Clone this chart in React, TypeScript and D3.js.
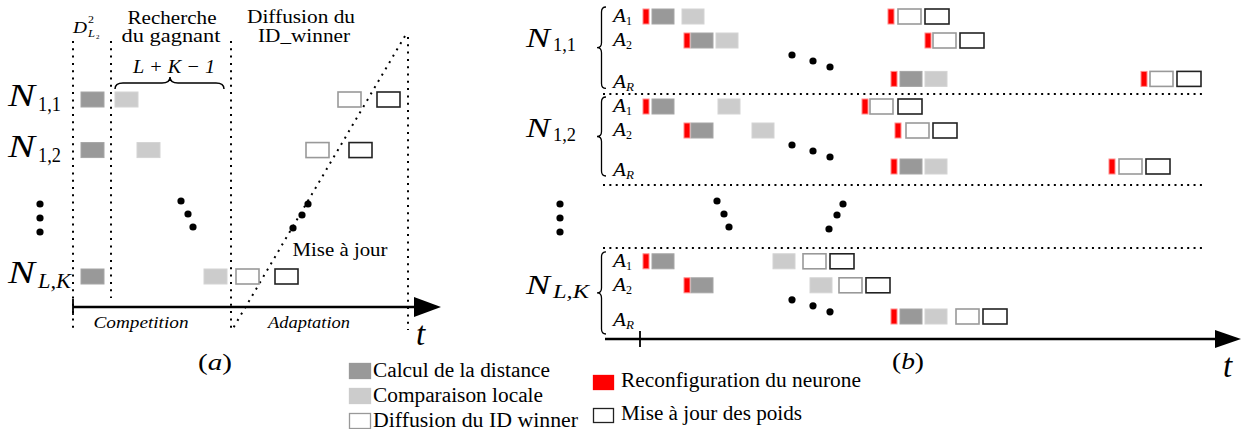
import React from "react";
import * as d3 from "d3";

// ---------- data ----------
// Panel (a): time offsets (px-units from the time origin) of each operation per neuron
const rowsA = ["1,1", "1,2", "L,K"];
const rowSlotA = [0, 1, 3.5];
const rowSubItalicA = [false, false, true];
const phaseLinesA = [0, 38, 158, 335];
const phaseLineEndA = [330, 298, 330, 330];
const distStartA = [8, 8, 8];
const compStartA = [42, 64, 131];
const diffStartA = [265, 233, 163];
const updStartA = [304, 276, 202];

// Panel (b): rows (group, agent), slot position and operation start times
const groupsB = ["1,1", "1,2", "L,K"];
const groupItalicB = [false, false, true];
const agentsB = ["1", "2", "R"];
const rowSlotB = [
  [0, 1, 2.6],
  [3.75, 4.75, 6.25],
  [10.2, 11.2, 12.5],
];
const reconfB = [
  [[3, 248], [44, 285], [251, 501]],
  [[3, 222], [44, 255], [251, 469]],
  [[3], [44], [251]],
];
const distB = [
  [12, 51, 260],
  [12, 51, 260],
  [12, 51, 260],
];
const compB = [
  [42, 76, 285],
  [78, 112, 285],
  [133, 170, 285],
];
const diffB = [
  [[258], [293], [510]],
  [[230], [266], [479]],
  [[163], [199], [316]],
];
const updB = [
  [[285], [320], [537]],
  [[258], [293], [506]],
  [[190], [226], [343]],
];
const separatorsB = [3.54, 7.33, 9.96];

const legendLeft = [
  { label: "Calcul de la distance", kind: "dist" },
  { label: "Comparaison locale", kind: "comp" },
  { label: "Diffusion du ID  winner", kind: "diff" },
];
const legendRight = [
  { label: "Reconfiguration du neurone", kind: "reconf" },
  { label: "Mise à jour des poids", kind: "upd" },
];

// ---------- scales ----------
const xA = d3.scaleLinear().domain([0, 335]).range([73, 408]);
const yA = d3.scaleLinear().domain([0, 3.5]).range([92, 269]);
const xB = d3.scaleLinear().domain([0, 575]).range([640, 1215]);
const yB = d3.scaleLinear().domain([0, 1]).range([9, 33]);

const BOX_H = 15;
const W_A = 23;
const W = { reconf: 6, dist: 22, comp: 22, diff: 23, upd: 24 };

const SERIF = '"Liberation Serif", "Times New Roman", serif';

const style: Record<string, any> = {
  dist: { fill: "#999999", stroke: "#a6a6a6", strokeWidth: 1 },
  comp: { fill: "#cccccc", stroke: "#d4d4d4", strokeWidth: 1 },
  diff: { fill: "#ffffff", stroke: "#999999", strokeWidth: 1.6 },
  upd: { fill: "#ffffff", stroke: "#222222", strokeWidth: 1.6 },
  reconf: { fill: "#ff0000", stroke: "#ff8a8a", strokeWidth: 1 },
};

function T(props: any) {
  const { x, y, size, italic, len, anchor, children } = props;
  return (
    <text
      x={x}
      y={y}
      style={{ fontFamily: SERIF, fontSize: size + "px", fontStyle: italic ? "italic" : "normal" }}
      textAnchor={anchor || "start"}
      textLength={len}
      lengthAdjust={len ? "spacingAndGlyphs" : undefined}
      fill="#000"
    >
      {children}
    </text>
  );
}

function vBrace(x: number, y0: number, y1: number, w: number) {
  const ym = (y0 + y1) / 2;
  const xm = x + w / 2;
  const r = 5;
  return `M${x + w},${y0} Q${xm},${y0} ${xm},${y0 + r} L${xm},${ym - r} Q${xm},${ym} ${x},${ym} Q${xm},${ym} ${xm},${ym + r} L${xm},${y1 - r} Q${xm},${y1} ${x + w},${y1}`;
}

function hBrace(x0: number, x1: number, y: number, h: number, xm: number) {
  const yc = y - h / 2;
  const r = 8;
  return `M${x0},${y} Q${x0},${yc} ${x0 + r},${yc} L${xm - r},${yc} Q${xm},${yc} ${xm},${y - h} Q${xm},${yc} ${xm + r},${yc} L${x1 - r},${yc} Q${x1},${yc} ${x1},${y}`;
}

function Dot({ cx, cy }: any) {
  return <circle cx={cx} cy={cy} r={3.6} fill="#000" />;
}

function Box({ x, y, w, kind }: any) {
  const s = style[kind];
  return <rect x={x} y={y} width={w} height={BOX_H} fill={s.fill} stroke={s.stroke} strokeWidth={s.strokeWidth} />;
}

export default function App() {
  const dotted = { stroke: "#000", strokeWidth: 2, strokeDasharray: "2 5.3", fill: "none" } as const;

  // ---------- Panel (a) ----------
  const panelA: any[] = [];
  phaseLinesA.forEach((t, i) => {
    panelA.push(<line key={"pl" + i} x1={xA(t)} x2={xA(t)} y1={i === 3 ? 37 : 41} y2={phaseLineEndA[i]} style={dotted} />);
  });
  panelA.push(<line key="diag" x1={xA(332)} y1={36} x2={xA(159)} y2={330} style={dotted} />);
  rowsA.forEach((r, i) => {
    const y = yA(rowSlotA[i]);
    panelA.push(<Box key={"d" + i} x={xA(distStartA[i])} y={y} w={W_A} kind="dist" />);
    panelA.push(<Box key={"c" + i} x={xA(compStartA[i])} y={y} w={W_A} kind="comp" />);
    panelA.push(<Box key={"f" + i} x={xA(diffStartA[i])} y={y} w={W_A} kind="diff" />);
    panelA.push(<Box key={"u" + i} x={xA(updStartA[i])} y={y} w={W_A} kind="upd" />);
    const base = y + 14;
    panelA.push(
      <g key={"lab" + i}>
        <T x={8} y={base} size={31} italic len={27}>N</T>
        <T x={38} y={base + 5} size={21} italic={rowSubItalicA[i]} len={rowSubItalicA[i] ? 33 : 23}>{r}</T>
      </g>
    );
  });
  [204, 218, 232].forEach((cy, i) => panelA.push(<Dot key={"ve" + i} cx={40} cy={cy} />));
  [[108, 201], [115, 214], [120, 227]].forEach((p, i) => panelA.push(<Dot key={"de" + i} cx={xA(p[0])} cy={p[1]} />));
  [[235, 204], [229, 215], [220, 228]].forEach((p, i) => panelA.push(<Dot key={"ue" + i} cx={xA(p[0])} cy={p[1]} />));

  panelA.push(<line key="axA" x1={xA(0)} x2={418} y1={307} y2={307} stroke="#000" strokeWidth={2.6} />);
  panelA.push(<path key="arA" d="M414,297 L441,307 L414,317 Z" fill="#000" />);
  panelA.push(<line key="tkA" x1={xA(0)} x2={xA(0)} y1={299} y2={315} stroke="#000" strokeWidth={1.8} />);
  panelA.push(<path key="brA" d={hBrace(115, 224, 89, 12, 170)} fill="none" stroke="#000" strokeWidth={1.5} />);

  // ---------- Panel (b) ----------
  const panelB: any[] = [];
  separatorsB.forEach((s, i) => {
    panelB.push(<line key={"sep" + i} x1={603} x2={1206} y1={yB(s)} y2={yB(s)} style={{ ...dotted, strokeDasharray: "2 4.35" }} />);
  });
  groupsB.forEach((g, gi) => {
    agentsB.forEach((a, ai) => {
      const y = yB(rowSlotB[gi][ai]);
      reconfB[gi][ai].forEach((t, k) => panelB.push(<Box key={`r${gi}${ai}${k}`} x={xB(t)} y={y} w={W.reconf} kind="reconf" />));
      panelB.push(<Box key={`d${gi}${ai}`} x={xB(distB[gi][ai])} y={y} w={W.dist} kind="dist" />);
      panelB.push(<Box key={`c${gi}${ai}`} x={xB(compB[gi][ai])} y={y} w={W.comp} kind="comp" />);
      diffB[gi][ai].forEach((t, k) => panelB.push(<Box key={`f${gi}${ai}${k}`} x={xB(t)} y={y} w={W.diff} kind="diff" />));
      updB[gi][ai].forEach((t, k) => panelB.push(<Box key={`u${gi}${ai}${k}`} x={xB(t)} y={y} w={W.upd} kind="upd" />));
      const ly = y + 13 + (a === "R" ? 4 : 0);
      panelB.push(
        <g key={`al${gi}${ai}`}>
          <T x={613} y={ly} size={18} italic len={13}>A</T>
          <T x={626} y={ly + 3} size={12} italic={a === "R"} len={a === "R" ? 8 : 6}>{a}</T>
        </g>
      );
    });
    const top = yB(rowSlotB[gi][0]) - 2;
    const bot = yB(rowSlotB[gi][2]) + 17 + (gi === 2 ? 8 : 0);
    panelB.push(<path key={"br" + gi} d={vBrace(597, top, bot, 9)} fill="none" stroke="#000" strokeWidth={1.3} />);
    const ey = yB(rowSlotB[gi][1]) + 22;
    [[152, 0], [173, 6], [190, 12]].forEach((p, k) => panelB.push(<Dot key={`ge${gi}${k}`} cx={xB(p[0])} cy={ey + p[1]} />));
    const nb = yB(rowSlotB[gi][1]) + 14 + (gi === 2 ? 2 : 0);
    panelB.push(
      <g key={"nl" + gi}>
        <T x={526} y={nb} size={27} italic len={24}>N</T>
        <T x={553} y={nb + 4} size={18} italic={groupItalicB[gi]} len={groupItalicB[gi] ? 36 : 23}>{g}</T>
      </g>
    );
  });
  [204, 218, 232].forEach((cy, i) => panelB.push(<Dot key={"vb" + i} cx={560} cy={cy} />));
  [[77, 201], [84, 214], [89, 227]].forEach((p, i) => panelB.push(<Dot key={"bl" + i} cx={xB(p[0])} cy={p[1]} />));
  [[203, 204], [197, 215], [189, 229]].forEach((p, i) => panelB.push(<Dot key={"br2" + i} cx={xB(p[0])} cy={p[1]} />));

  panelB.push(<line key="axB" x1={605} x2={1220} y1={339} y2={339} stroke="#000" strokeWidth={2.6} />);
  panelB.push(<path key="arB" d="M1215,330 L1241,339 L1215,348 Z" fill="#000" />);
  panelB.push(<line key="tkB" x1={xB(0)} x2={xB(0)} y1={331} y2={347} stroke="#000" strokeWidth={1.8} />);

  return (
    <svg width={1247} height={429} style={{ position: "absolute", left: 0, top: 0 }}>
      <rect width={1247} height={429} fill="#fff" />
      <T x={73} y={33} size={16} italic len={14}>D</T>
      <T x={88} y={23} size={11} len={6}>2</T>
      <T x={88} y={37} size={11} italic len={7}>L</T>
      <T x={96} y={39} size={7}>2</T>
      <T x={172} y={24} size={18} anchor="middle" len={89}>Recherche</T>
      <T x={171} y={42} size={18} anchor="middle" len={99}>du gagnant</T>
      <T x={301} y={23} size={18} anchor="middle" len={108}>Diffusion du</T>
      <T x={304} y={42} size={18} anchor="middle" len={92}>ID_winner</T>
      <T x={174} y={73} size={19} italic anchor="middle" len={82}>L + K − 1</T>
      <T x={141} y={328} size={16} italic anchor="middle" len={95}>Competition</T>
      <T x={309} y={328} size={16} italic anchor="middle" len={82}>Adaptation</T>
      <T x={340} y={256} size={19} anchor="middle" len={95}>Mise à jour</T>
      <T x={416} y={345} size={33} italic>t</T>
      <T x={215} y={370} size={23} anchor="middle" len={34}>(<tspan fontStyle="italic">a</tspan>)</T>
      <T x={908} y={369} size={23} anchor="middle" len={32}>(<tspan fontStyle="italic">b</tspan>)</T>
      <T x={1223} y={377} size={33} italic>t</T>
      {panelA}
      {panelB}
      {legendLeft.map((l, i) => (
        <g key={"ll" + i}>
          <rect x={349.5} y={363.5 + i * 25} width={21} height={15} fill={style[l.kind].fill} stroke={l.kind === "diff" ? "#999" : style[l.kind].fill} strokeWidth={1.3} />
          <T x={373} y={377 + i * 25} size={20} len={[177, 170, 205][i]}>{l.label}</T>
        </g>
      ))}
      {legendRight.map((l, i) => (
        <g key={"lr" + i}>
          <rect x={593.5} y={375.5 + i * 33} width={20} height={14} fill={style[l.kind].fill} stroke={l.kind === "upd" ? "#222" : "#ff0000"} strokeWidth={1.3} />
          <T x={621} y={387 + i * 33} size={20} len={[240, 181][i]}>{l.label}</T>
        </g>
      ))}
    </svg>
  );
}
